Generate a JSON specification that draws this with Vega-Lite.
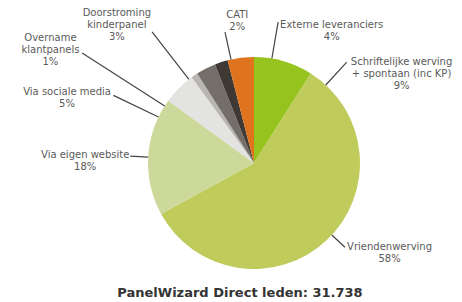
{
  "$schema": "https://vega.github.io/schema/vega-lite/v6.json",
  "width": 416,
  "height": 306,
  "autosize": "none",
  "padding": {"left": 46, "top": 10, "right": 0, "bottom": 0},
  "background": "white",
  "config": {"view": {"stroke": null}},
  "title": {"text": "PanelWizard Direct leden: 31.738", "orient": "bottom", "offset": -29, "dx": -14, "font": "DejaVu Sans", "fontSize": 13, "fontWeight": "bold", "color": "#333333"},
  "data": {"values": [
    {"cat": "Schriftelijke", "label": ["Schriftelijke werving", "+ spontaan (inc KP)", "9%"], "value": 9, "k": 1},
    {"cat": "Vriendenwerving", "label": ["Vriendenwerving", "58%"], "value": 58, "k": 2},
    {"cat": "Website", "label": ["Via eigen website", "18%"], "value": 18, "k": 3},
    {"cat": "Sociale", "label": ["Via sociale media", "5%"], "value": 5, "k": 4},
    {"cat": "Overname", "label": ["Overname", "klantpanels", "1%"], "value": 1, "k": 5},
    {"cat": "Doorstroming", "label": ["Doorstroming", "kinderpanel", "3%"], "value": 3, "k": 6},
    {"cat": "CATI", "label": ["CATI", "2%"], "value": 2, "k": 7},
    {"cat": "Externe", "label": ["Externe leveranciers", "4%"], "value": 4, "k": 8}
  ]},
  "layer": [
    {
      "mark": {"type": "arc", "radius": 106},
      "encoding": {
        "theta": {"field": "value", "type": "quantitative", "stack": true},
        "order": {"field": "k", "type": "quantitative"},
        "color": {"field": "cat", "type": "nominal", "legend": null,
          "scale": {"domain": ["Schriftelijke", "Vriendenwerving", "Website", "Sociale", "Overname", "Doorstroming", "CATI", "Externe"],
                    "range": ["#96c31e", "#bfcc5b", "#cdd99b", "#e3e3e1", "#b9b5b0", "#736e69", "#3e3934", "#e0731e"]}}
      }
    },
    {"mark": {"type": "arc", "radius": 137, "radius2": 106, "padAngle": 3.14, "thetaOffset": 0.461, "theta2Offset": 0.461, "fill": "transparent", "stroke": "#444444", "strokeWidth": 1.2},
     "encoding": {"theta": {"field": "value", "type": "quantitative", "stack": true}, "order": {"field": "k", "type": "quantitative"}, "detail": {"field": "cat"},
       "strokeOpacity": {"condition": {"test": "datum.cat === 'Schriftelijke'", "value": 1}, "value": 0}}},
    {"transform": [{"stack": "value", "sort": [{"field": "k", "order": "ascending"}], "groupby": [], "as": ["v0", "v1"]}],
     "mark": {"type": "arc", "radius": 124, "radius2": 106, "padAngle": 3.14, "thetaOffset": 1.43, "theta2Offset": -1.57, "fill": "transparent", "stroke": "#444444", "strokeWidth": 1.2},
     "encoding": {"theta": {"field": "v0", "type": "quantitative"}, "theta2": {"field": "v1"},
       "strokeOpacity": {"condition": {"test": "datum.cat === 'Vriendenwerving'", "value": 1}, "value": 0}}},
    {"mark": {"type": "arc", "radius": 124, "radius2": 106, "padAngle": 3.14, "thetaOffset": -0.007, "theta2Offset": -0.007, "fill": "transparent", "stroke": "#444444", "strokeWidth": 1.2},
     "encoding": {"theta": {"field": "value", "type": "quantitative", "stack": true}, "order": {"field": "k", "type": "quantitative"}, "detail": {"field": "cat"},
       "strokeOpacity": {"condition": {"test": "datum.cat === 'Website'", "value": 1}, "value": 0}}},
    {"mark": {"type": "arc", "radius": 156, "radius2": 106, "padAngle": 3.14, "thetaOffset": -0.337, "theta2Offset": -0.337, "fill": "transparent", "stroke": "#444444", "strokeWidth": 1.2},
     "encoding": {"theta": {"field": "value", "type": "quantitative", "stack": true}, "order": {"field": "k", "type": "quantitative"}, "detail": {"field": "cat"},
       "strokeOpacity": {"condition": {"test": "datum.cat === 'Sociale'", "value": 1}, "value": 0}}},
    {"mark": {"type": "arc", "radius": 204, "radius2": 106, "padAngle": 3.14, "thetaOffset": -0.405, "theta2Offset": -0.405, "fill": "transparent", "stroke": "#444444", "strokeWidth": 1.2},
     "encoding": {"theta": {"field": "value", "type": "quantitative", "stack": true}, "order": {"field": "k", "type": "quantitative"}, "detail": {"field": "cat"},
       "strokeOpacity": {"condition": {"test": "datum.cat === 'Overname'", "value": 1}, "value": 0}}},
    {"mark": {"type": "arc", "radius": 166, "radius2": 106, "padAngle": 3.14, "thetaOffset": -0.19, "theta2Offset": -0.19, "fill": "transparent", "stroke": "#444444", "strokeWidth": 1.2},
     "encoding": {"theta": {"field": "value", "type": "quantitative", "stack": true}, "order": {"field": "k", "type": "quantitative"}, "detail": {"field": "cat"},
       "strokeOpacity": {"condition": {"test": "datum.cat === 'Doorstroming'", "value": 1}, "value": 0}}},
    {"mark": {"type": "arc", "radius": 134, "radius2": 106, "padAngle": 3.14, "thetaOffset": 0.096, "theta2Offset": 0.096, "fill": "transparent", "stroke": "#444444", "strokeWidth": 1.2},
     "encoding": {"theta": {"field": "value", "type": "quantitative", "stack": true}, "order": {"field": "k", "type": "quantitative"}, "detail": {"field": "cat"},
       "strokeOpacity": {"condition": {"test": "datum.cat === 'CATI'", "value": 1}, "value": 0}}},
    {"mark": {"type": "arc", "radius": 143, "radius2": 106, "padAngle": 3.14, "thetaOffset": 0.295, "theta2Offset": 0.295, "fill": "transparent", "stroke": "#444444", "strokeWidth": 1.2},
     "encoding": {"theta": {"field": "value", "type": "quantitative", "stack": true}, "order": {"field": "k", "type": "quantitative"}, "detail": {"field": "cat"},
       "strokeOpacity": {"condition": {"test": "datum.cat === 'Externe'", "value": 1}, "value": 0}}},
    {"mark": {"type": "text", "radius": 106, "dx": 118, "dy": 1, "align": "center", "baseline": "middle", "font": "DejaVu Sans", "fontSize": 10, "lineHeight": 12, "fill": "#5a5a5a"},
     "encoding": {"theta": {"field": "value", "type": "quantitative", "stack": true}, "order": {"field": "k", "type": "quantitative"}, "detail": {"field": "cat"},
       "text": {"condition": {"test": "datum.cat === 'Schriftelijke'", "field": "label"}, "value": ""}}},
    {"mark": {"type": "text", "radius": 106, "dx": 63, "dy": 7, "align": "center", "baseline": "middle", "font": "DejaVu Sans", "fontSize": 10, "lineHeight": 12, "fill": "#5a5a5a"},
     "encoding": {"theta": {"field": "value", "type": "quantitative", "stack": true}, "order": {"field": "k", "type": "quantitative"}, "detail": {"field": "cat"},
       "text": {"condition": {"test": "datum.cat === 'Vriendenwerving'", "field": "label"}, "value": ""}}},
    {"mark": {"type": "text", "radius": 106, "dx": -63, "dy": -1, "align": "center", "baseline": "middle", "font": "DejaVu Sans", "fontSize": 10, "lineHeight": 12, "fill": "#5a5a5a"},
     "encoding": {"theta": {"field": "value", "type": "quantitative", "stack": true}, "order": {"field": "k", "type": "quantitative"}, "detail": {"field": "cat"},
       "text": {"condition": {"test": "datum.cat === 'Website'", "field": "label"}, "value": ""}}},
    {"mark": {"type": "text", "radius": 106, "dx": -112, "dy": 4, "align": "center", "baseline": "middle", "font": "DejaVu Sans", "fontSize": 10, "lineHeight": 12, "fill": "#5a5a5a"},
     "encoding": {"theta": {"field": "value", "type": "quantitative", "stack": true}, "order": {"field": "k", "type": "quantitative"}, "detail": {"field": "cat"},
       "text": {"condition": {"test": "datum.cat === 'Sociale'", "field": "label"}, "value": ""}}},
    {"mark": {"type": "text", "radius": 106, "dx": -144, "dy": -37, "align": "center", "baseline": "middle", "font": "DejaVu Sans", "fontSize": 10, "lineHeight": 12, "fill": "#5a5a5a"},
     "encoding": {"theta": {"field": "value", "type": "quantitative", "stack": true}, "order": {"field": "k", "type": "quantitative"}, "detail": {"field": "cat"},
       "text": {"condition": {"test": "datum.cat === 'Overname'", "field": "label"}, "value": ""}}},
    {"mark": {"type": "text", "radius": 106, "dx": -89, "dy": -56, "align": "center", "baseline": "middle", "font": "DejaVu Sans", "fontSize": 10, "lineHeight": 12, "fill": "#5a5a5a"},
     "encoding": {"theta": {"field": "value", "type": "quantitative", "stack": true}, "order": {"field": "k", "type": "quantitative"}, "detail": {"field": "cat"},
       "text": {"condition": {"test": "datum.cat === 'Doorstroming'", "field": "label"}, "value": ""}}},
    {"mark": {"type": "text", "radius": 106, "dx": 16, "dy": -47, "align": "center", "baseline": "middle", "font": "DejaVu Sans", "fontSize": 10, "lineHeight": 12, "fill": "#5a5a5a"},
     "encoding": {"theta": {"field": "value", "type": "quantitative", "stack": true}, "order": {"field": "k", "type": "quantitative"}, "detail": {"field": "cat"},
       "text": {"condition": {"test": "datum.cat === 'CATI'", "field": "label"}, "value": ""}}},
    {"mark": {"type": "text", "radius": 106, "dx": 91, "dy": -33, "align": "center", "baseline": "middle", "font": "DejaVu Sans", "fontSize": 10, "lineHeight": 12, "fill": "#5a5a5a"},
     "encoding": {"theta": {"field": "value", "type": "quantitative", "stack": true}, "order": {"field": "k", "type": "quantitative"}, "detail": {"field": "cat"},
       "text": {"condition": {"test": "datum.cat === 'Externe'", "field": "label"}, "value": ""}}}
  ]
}
